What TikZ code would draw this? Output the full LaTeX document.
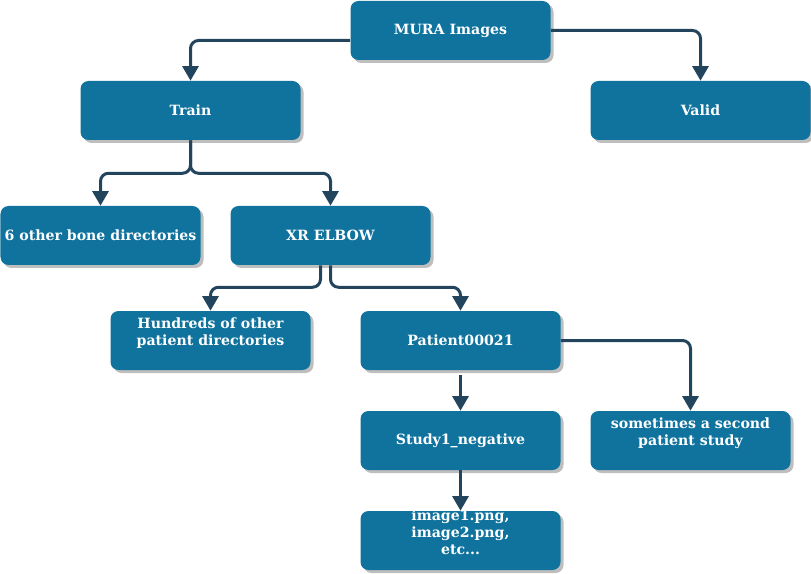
\documentclass[tikz,border=0pt]{standalone}
\usepackage{fontspec}
\setmainfont{DejaVu Serif}
\usetikzlibrary{arrows.meta,positioning,shadows}
\definecolor{boxfill}{RGB}{16,115,158}
\definecolor{linkc}{RGB}{35,68,93}
\definecolor{shade}{RGB}{190,190,190}
% multi-line labels sit a little high in their boxes
\newcommand{\lifted}[1]{\raisebox{5pt}[\height][\depth]{\begin{tabular}{@{}c@{}}#1\end{tabular}}}

\tikzset{
  dir/.style={rectangle,rounded corners=6pt,fill=boxfill,draw=none,
    text=white,font=\fontsize{10.6}{12.75}\selectfont\bfseries,align=center,
    minimum width=150pt,minimum height=44.25pt,inner sep=2pt,
    drop shadow={shadow xshift=2.25pt,shadow yshift=-2.25pt,fill=shade,opacity=1}},
  wide/.style={minimum width=165pt},
  link/.style={draw=linkc,line width=2.25pt,rounded corners=6pt,
    -{Triangle[length=11pt,width=12pt]}},
}

\begin{document}
\begin{tikzpicture}[x=0.75pt,y=-0.75pt]
\useasboundingbox (0,0) rectangle (811,574);

% top level
\node[dir] (mura) at (450.5,30.5) {MURA Images};
\node[dir,wide] (train) at (190.5,110.5) {Train};
\node[dir,wide] (valid) at (700.5,110.5) {Valid};

% bones
\node[dir] (bone) at (100.5,235.5) {6 other bone directories};
\node[dir] (elbow) at (330.5,235.5) {XR ELBOW};

% patients
\node[dir] (hundreds) at (210.5,340.5) {\lifted{Hundreds of other\\patient directories}};
\node[dir] (patient) at (460.5,340.5) {Patient00021};

% studies
\node[dir] (study) at (460.5,440.5) {Study1\_negative};
\node[dir] (second) at (690.5,440.5) {\lifted{sometimes a second\\patient study}};
\node[dir] (images) at (460.5,540.5) {\lifted{image1.png,\\image2.png,\\etc...}};

% links
\draw[link] ([yshift=-7.5pt]mura.west) -| (train.north);
\draw[link] (mura.east) -| (valid.north);
\draw[link] (train.south) -- ++(0,33) -| (bone.north);
\draw[link] (train.south) -- ++(0,33) -| (elbow.north);
\draw[link] ([xshift=-7.5pt]elbow.south) -- ++(0,22) -| (hundreds.north);
\draw[link] (elbow.south) -- ++(0,22) -| (patient.north);
\draw[link,shorten <=3.5pt] (patient.south) -- (study.north);
\draw[link] (patient.east) -| (second.north);
\draw[link] (study.south) -- (images.north);

\end{tikzpicture}
\end{document}
